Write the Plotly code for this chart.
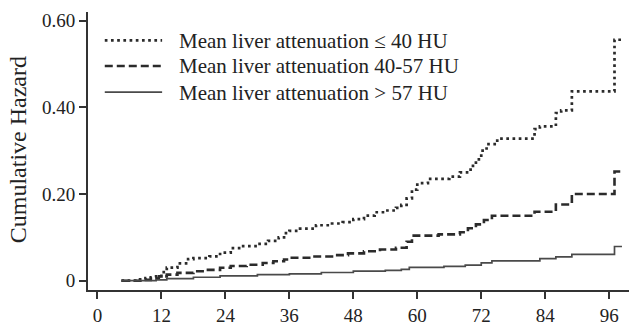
import plotly.graph_objects as go

# Follow-up time (months) and cumulative hazard for each attenuation group
months_low = [4.5, 8, 9, 10, 11, 12, 13, 15, 17, 18, 21, 23, 25, 27, 30, 32, 34, 35, 36, 38,
              41, 44, 46, 48, 50, 52, 54, 56, 57, 58, 59, 60, 62, 66, 68, 70, 71, 72, 73, 75,
              82, 83, 86, 87, 89, 97, 98.4]
hazard_low = [0, 0.003, 0.006, 0.008, 0.01, 0.02, 0.03, 0.04, 0.05, 0.052, 0.056, 0.065, 0.075,
              0.08, 0.085, 0.092, 0.10, 0.11, 0.115, 0.12, 0.128, 0.132, 0.135, 0.142, 0.15,
              0.158, 0.162, 0.168, 0.175, 0.19, 0.21, 0.225, 0.235, 0.24, 0.25, 0.265, 0.28,
              0.30, 0.315, 0.328, 0.35, 0.356, 0.387, 0.393, 0.437, 0.556, 0.556]

months_mid = [4.5, 8, 10, 11.5, 13, 15, 18, 20, 23, 25, 28, 31, 33, 35, 36, 40, 44, 47, 50, 53,
              56, 58, 59, 64, 68, 69.5, 71, 72.5, 74, 82, 86, 89, 97, 98.4]
hazard_mid = [0, 0.002, 0.005, 0.01, 0.014, 0.018, 0.022, 0.025, 0.03, 0.034, 0.037, 0.041,
              0.045, 0.049, 0.053, 0.056, 0.059, 0.063, 0.068, 0.072, 0.076, 0.09, 0.104,
              0.107, 0.112, 0.121, 0.13, 0.14, 0.15, 0.159, 0.176, 0.2, 0.252, 0.252]

months_high = [4.5, 11, 13, 18, 23, 30, 36, 42, 48, 54, 57, 58.5, 65, 69, 72, 74, 83, 86, 89,
               97, 98.4]
hazard_high = [0, 0.002, 0.005, 0.008, 0.011, 0.014, 0.016, 0.019, 0.022, 0.024, 0.026, 0.031,
               0.033, 0.036, 0.041, 0.046, 0.051, 0.055, 0.061, 0.079, 0.079]

x_ticks = [0, 12, 24, 36, 48, 60, 72, 84, 96]
y_ticks = [0, 0.2, 0.4, 0.6]
y_tick_labels = ["0", "0.20", "0.40", "0.60"]

group_labels = [
    "Mean liver attenuation \u2264 40 HU",
    "Mean liver attenuation 40-57 HU",
    "Mean liver attenuation > 57 HU",
]
group_styles = [
    dict(color="#2b2b2b", width=2.7, dash="2.7px,3.5px"),
    dict(color="#2b2b2b", width=2.6, dash="8px,4px"),
    dict(color="#4a4a4a", width=1.7, dash="solid"),
]

FONT = "Liberation Serif"

fig = go.Figure()
for xs, ys, style in zip([months_low, months_mid, months_high],
                         [hazard_low, hazard_mid, hazard_high], group_styles):
    fig.add_trace(go.Scatter(x=xs, y=ys, mode="lines", line_shape="hv",
                             line=style, showlegend=False, hoverinfo="skip"))

# Legend drawn as line samples with labels in the upper-left corner
legend_y = [0.898, 0.806, 0.712]
for label, style, ly in zip(group_labels, group_styles, legend_y):
    fig.add_shape(type="line", xref="paper", yref="paper",
                  x0=0.031, x1=0.137, y0=ly, y1=ly,
                  line=dict(color=style["color"], width=style["width"], dash=style["dash"]))
    fig.add_annotation(xref="paper", yref="paper", x=0.164, y=ly - 0.002,
                       xanchor="left", yanchor="middle", showarrow=False,
                       text=label, font=dict(family=FONT, size=21, color="#222"))

fig.add_annotation(xref="paper", yref="paper", x=-0.13, y=0.505,
                   xanchor="center", yanchor="middle", showarrow=False,
                   textangle=-90, text="Cumulative Hazard",
                   font=dict(family=FONT, size=24, color="#222"))

fig.update_layout(
    width=629, height=326,
    margin=dict(l=88, r=0, t=12, b=30),
    paper_bgcolor="white", plot_bgcolor="white",
    font=dict(family=FONT, color="#222"),
    xaxis=dict(range=[-1.78, 99.72], tickvals=x_ticks, ticks="outside", ticklen=7,
               tickwidth=1.6, tickcolor="#333", showline=True, linecolor="#333",
               linewidth=2, showgrid=False, zeroline=False,
               tickfont=dict(family=FONT, size=19, color="#222")),
    yaxis=dict(range=[-0.0214, 0.62], tickvals=y_ticks, ticktext=y_tick_labels,
               ticks="outside", ticklen=7, tickwidth=1.6, tickcolor="#333",
               showline=True, linecolor="#333", linewidth=2, showgrid=False,
               zeroline=False, tickfont=dict(family=FONT, size=19, color="#222")),
)

fig.write_html("out.html")
